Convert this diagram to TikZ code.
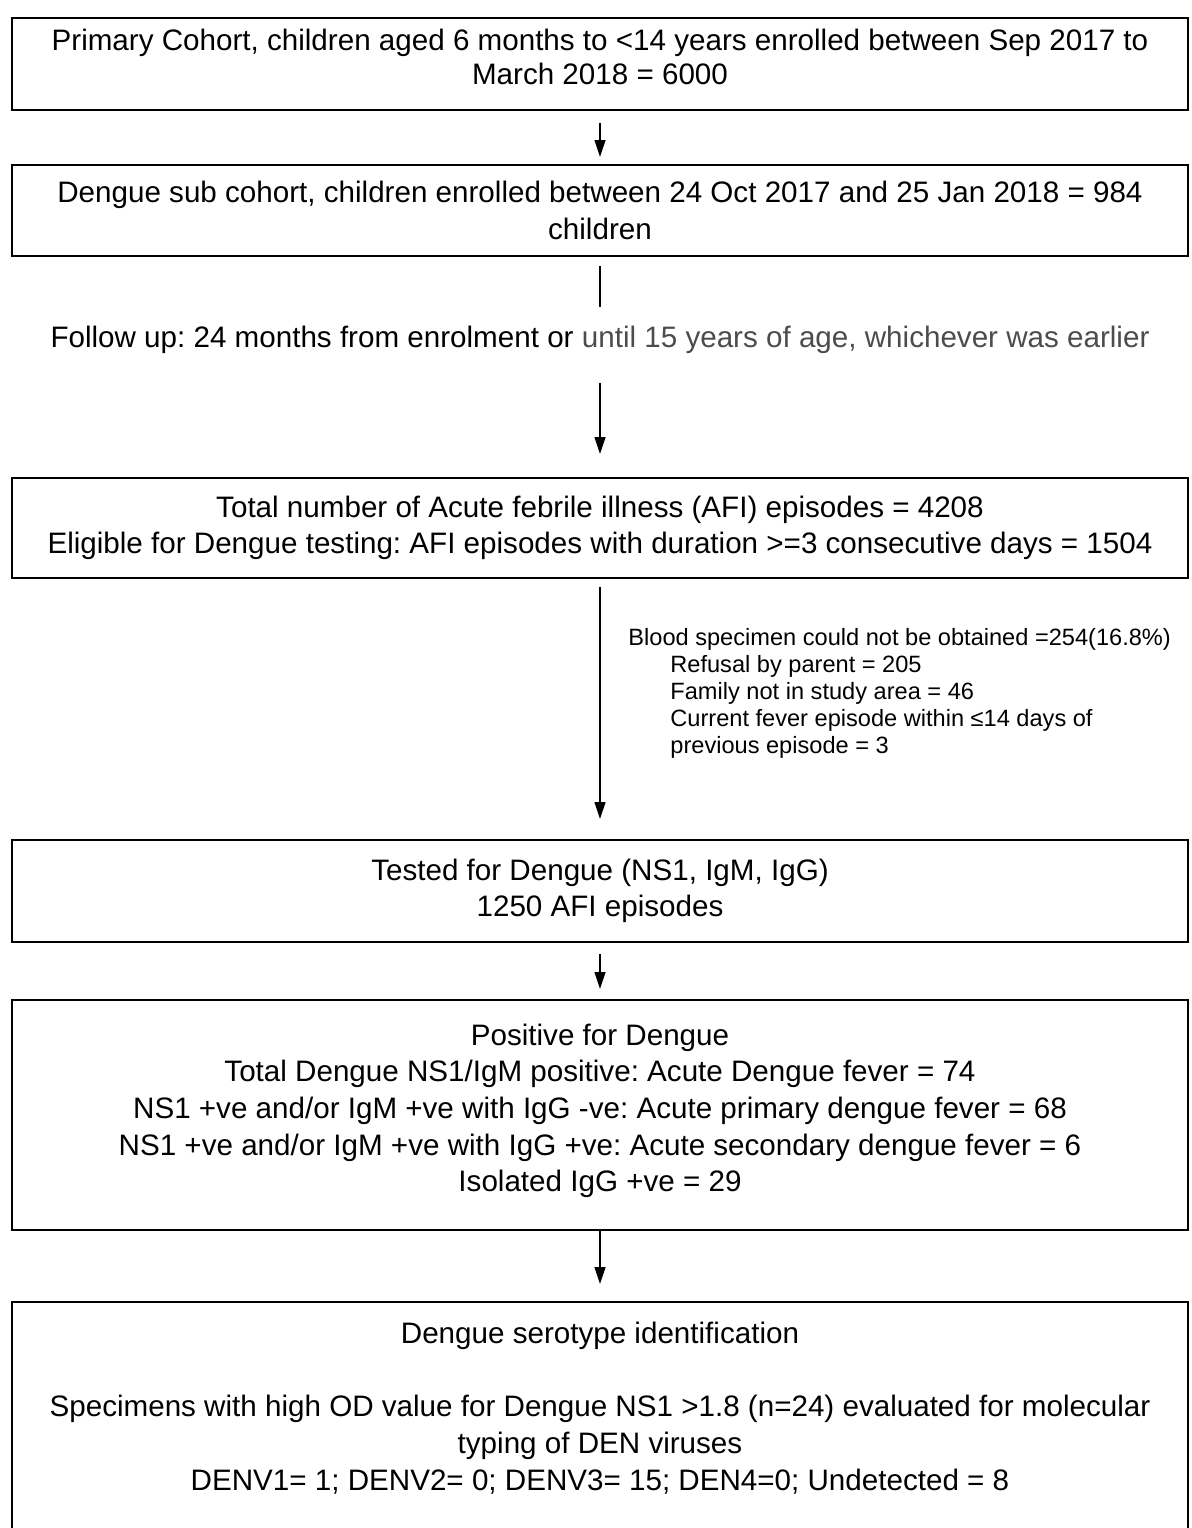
\documentclass[tikz,border=0pt]{standalone}
\usepackage{fontspec}
\setmainfont{Liberation Sans}
\frenchspacing
\usetikzlibrary{positioning,arrows.meta}
\definecolor{fadedtext}{gray}{0.3}
\tikzstyle{stage} = [draw, rectangle, line width=1pt, minimum width=588pt, align=center, font=\fontsize{14.8}{18.3}\selectfont]
\tikzstyle{plaintext} = [inner sep=0pt, font=\fontsize{14.8}{18.3}\selectfont]
\tikzstyle{note} = [align=left, inner sep=0pt, font=\fontsize{11.8}{13.5}\selectfont]
\tikzstyle{line} = [draw, line width=0.6pt, -{Triangle[length=8.5pt,width=5.5pt]}]
\tikzstyle{link} = [draw, line width=0.6pt]

\begin{document}
\begin{tikzpicture}[node distance = 2cm, auto]
    \useasboundingbox (0,0) rectangle (595.5pt,-764pt);

    % Place nodes
    \node [stage, minimum height=46pt, font=\fontsize{14.8}{17}\selectfont] (primary) at (300pt,-32pt) {Primary Cohort, children aged 6 months to <14 years enrolled between Sep 2017 to\\March 2018 = 6000\\[-10pt]\mbox{}};
    \node [stage, below of=primary, node distance=73.25pt, minimum height=45.5pt] (subcohort) {Dengue sub cohort, children enrolled between 24 Oct 2017 and 25 Jan 2018 = 984\\children};
    \node [plaintext, below of=subcohort, node distance=64.75pt] (followup) {Follow up: 24 months from enrolment or {\color{fadedtext}until 15 years of age, whichever was earlier}};
    \node [stage, below of=subcohort, node distance=158.75pt, minimum height=50pt] (afi) {Total number of Acute febrile illness (AFI) episodes = 4208\\Eligible for Dengue testing: AFI episodes with duration >=3 consecutive days = 1504};
    \node [note, below right=24.5pt and 14pt of afi.south] (excluded) {Blood specimen could not be obtained =254(16.8\%)\\
        \hspace*{21pt}Refusal by parent = 205\\
        \hspace*{21pt}Family not in study area = 46\\
        \hspace*{21pt}Current fever episode within ≤14 days of\\
        \hspace*{21pt}previous episode = 3};
    \node [stage, below of=afi, node distance=181.5pt, minimum height=51pt] (tested) {Tested for Dengue (NS1, IgM, IgG)\\1250 AFI episodes};
    \node [stage, below of=tested, node distance=112pt, minimum height=115pt] (positive) {Positive for Dengue\\Total Dengue NS1/IgM positive: Acute Dengue fever = 74\\NS1 +ve and/or IgM +ve with IgG -ve: Acute primary dengue fever = 68\\NS1 +ve and/or IgM +ve with IgG +ve: Acute secondary dengue fever = 6\\Isolated IgG +ve = 29\\[-11pt]\mbox{}};
    \node [stage, below of=positive, node distance=154.75pt, minimum height=122.5pt] (serotype) {Dengue serotype identification\\[18.3pt]Specimens with high OD value for Dengue NS1 >1.8 (n=24) evaluated for molecular\\typing of DEN viruses\\DENV1= 1; DENV2= 0; DENV3= 15; DEN4=0; Undetected = 8\\ \mbox{}};

    % Draw edges
    \path [line, shorten <=6pt, shorten >=3.5pt] (primary) -- (subcohort);
    \path [link, shorten <=4.5pt, shorten >=9.5pt] (subcohort) -- (followup);
    \path [line, shorten <=14.5pt, shorten >=11.5pt] (followup) -- (afi);
    \path [line, shorten <=4pt, shorten >=10pt] (afi) -- (tested);
    \path [line, shorten <=5.5pt, shorten >=5pt] (tested) -- (positive);
    \path [line, shorten >=8.5pt] (positive) -- (serotype);
\end{tikzpicture}
\end{document}
